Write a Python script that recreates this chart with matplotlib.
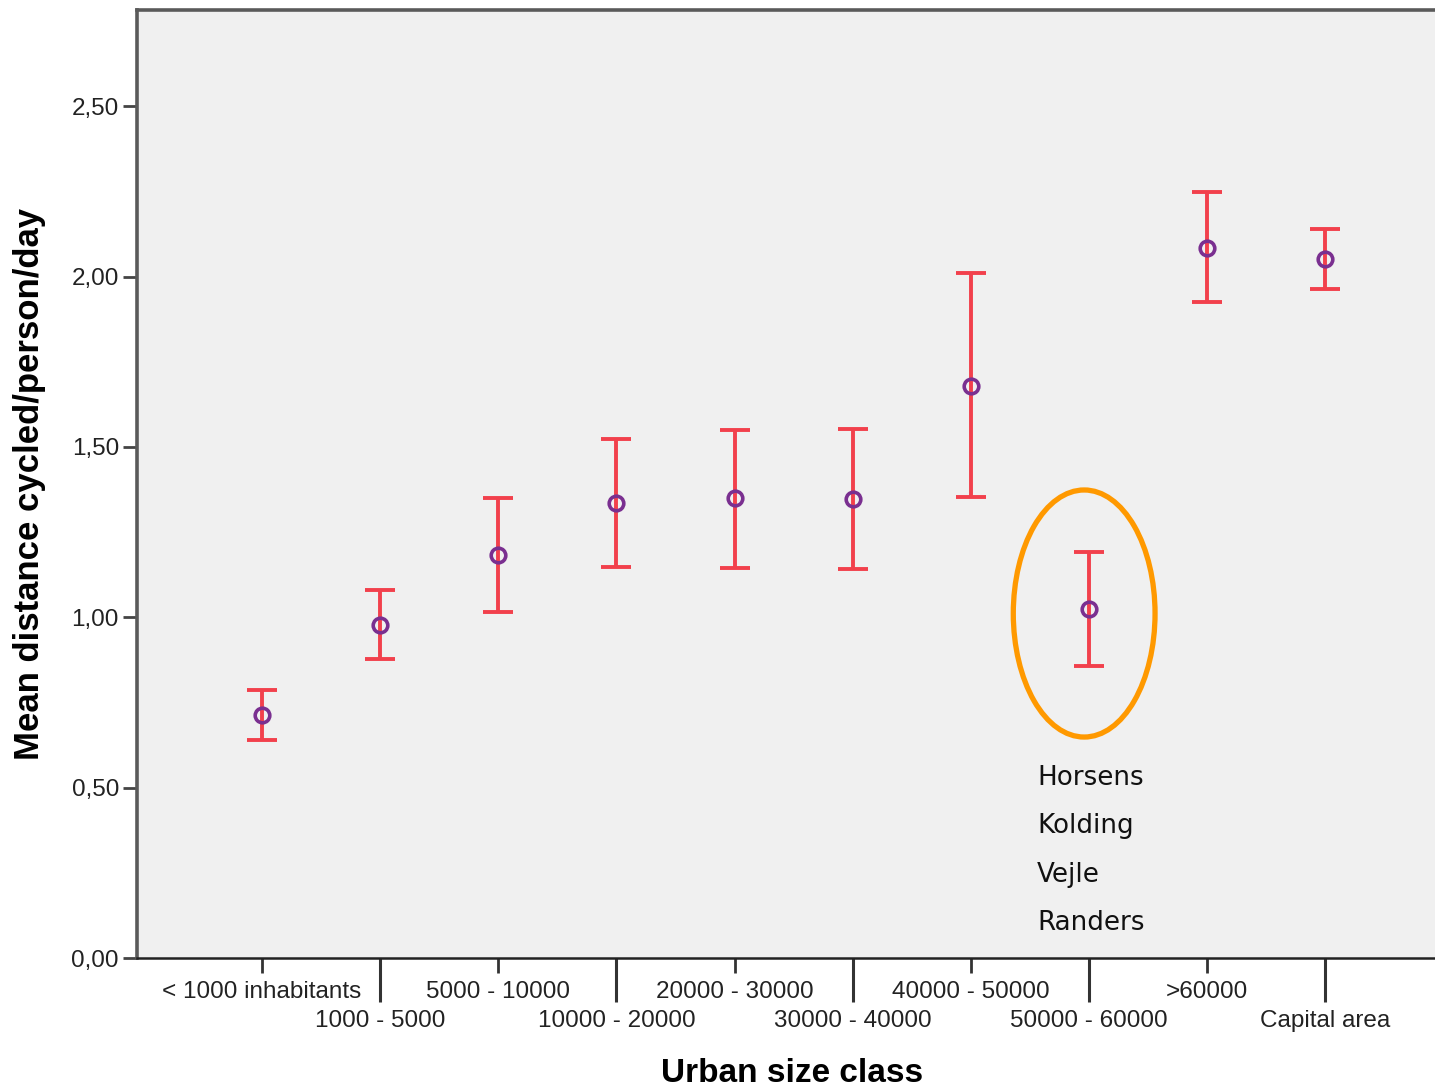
import matplotlib.pyplot as plt
from matplotlib.patches import Ellipse

# Mean distance cycled per person per day, with 95% CI, by urban size class
classes = ['< 1000 inhabitants', '1000 - 5000', '5000 - 10000', '10000 - 20000',
           '20000 - 30000', '30000 - 40000', '40000 - 50000', '50000 - 60000',
           '>60000', 'Capital area']
means = [0.713, 0.977, 1.183, 1.335, 1.350, 1.347, 1.678, 1.024, 2.083, 2.051]
ci_low = [0.640, 0.877, 1.015, 1.147, 1.144, 1.141, 1.353, 0.857, 1.925, 1.963]
ci_high = [0.786, 1.080, 1.350, 1.523, 1.549, 1.552, 2.010, 1.191, 2.248, 2.139]

y_ticks = [0.0, 0.5, 1.0, 1.5, 2.0, 2.5]
y_labels = ['0,00', '0,50', '1,00', '1,50', '2,00', '2,50']

towns = ['Horsens', 'Kolding', 'Vejle', 'Randers']

plt.rcParams['font.family'] = ['Liberation Sans', 'DejaVu Sans']

fig = plt.figure(figsize=(14.35, 10.91), dpi=100)
ax = fig.add_axes([0.0955, 0.1219, 0.9045, 0.8689])
ax.set_facecolor('#f0f0f0')

x = list(range(len(classes)))
err_low = [m - lo for m, lo in zip(means, ci_low)]
err_high = [hi - m for m, hi in zip(means, ci_high)]
ax.errorbar(x, means, yerr=[err_low, err_high], fmt='none', ecolor='#f2404c',
            elinewidth=2.8, capsize=10.8, capthick=2.8, zorder=2)
ax.plot(x, means, 'o', ms=10.5, mfc='none', mec='#7a2f90', mew=2.6, zorder=3)

# highlighted class with the towns belonging to it
ax.add_patch(Ellipse((6.96, 1.011), 1.20, 0.725, fill=False,
                     edgecolor='#ff9900', lw=3.8, zorder=4))
for i, town in enumerate(towns):
    ax.text(6.56, 0.527 - i * 0.141, town, family='DejaVu Sans', fontsize=18.8,
            color='#111111', va='center', ha='left')

ax.set_xlim(-1.058, 9.93)
ax.set_ylim(0, 2.782)

ax.set_yticks(y_ticks, y_labels)
ax.tick_params(axis='y', length=10, width=2, color='#444444', pad=3,
               labelsize=17.5, labelcolor='#222222')

# staggered category labels: even ones on the first row, odd ones below
ax.set_xticks(x[0::2], classes[0::2])
ax.set_xticks(x[1::2], classes[1::2], minor=True)
ax.tick_params(axis='x', which='major', length=10.8, width=2, color='#333333',
               pad=5.5, labelsize=17.5, labelcolor='#222222')
ax.tick_params(axis='x', which='minor', length=31.7, width=2.2, color='#333333',
               pad=5.5, labelsize=17.5, labelcolor='#222222')

for side in ['left', 'top']:
    ax.spines[side].set_color('#5a5a5a')
    ax.spines[side].set_linewidth(2.6)
ax.spines['bottom'].set_color('#222222')
ax.spines['bottom'].set_linewidth(1.8)
ax.spines['right'].set_visible(False)

ax.set_ylabel('Mean distance cycled/person/day', fontsize=25, fontweight='bold')
ax.yaxis.set_label_coords(-0.0705, 0.5)
ax.set_xlabel('Urban size class', fontsize=24, fontweight='bold', va='top')
ax.xaxis.set_label_coords(0.505, -0.105)

fig.savefig('out.png', dpi=100, facecolor='white')
